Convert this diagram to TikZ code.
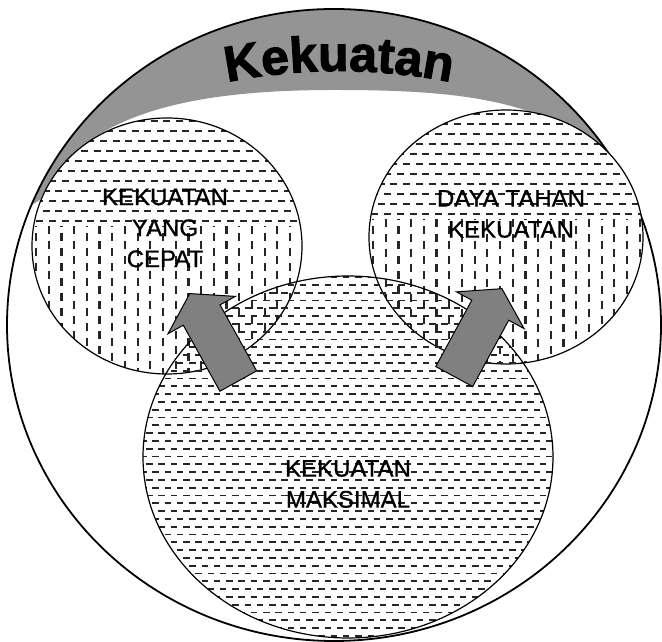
\documentclass[tikz,border=0pt]{standalone}
\usepackage{fontspec}
\setmainfont{Liberation Sans}
\newfontfamily\kekfont{Liberation Sans Bold}[FakeBold=2]
\newfontfamily\lblfont{Liberation Sans}[FakeBold=0.8]
\usetikzlibrary{shapes.arrows, decorations.text}

\begin{document}
\begin{tikzpicture}[x=1pt, y=1pt,
    lbl/.style={align=center, font=\lblfont\fontsize{24}{31}\selectfont, inner sep=0pt},
    blk/.style={single arrow, draw=black, fill=black!50, line width=1pt,
                minimum height=100pt, minimum width=76pt, inner xsep=0pt,
                inner ysep=20.5pt, single arrow tip angle=115,
                single arrow head extend=17.5pt, anchor=tail},
    hdash/.style={line width=2pt, dash pattern=on 7pt off 5.7pt, black!85},
    vdash/.style={line width=2.2pt, dash pattern=on 8pt off 7pt, black!85},
    mdash/.style={line width=1.8pt, dash pattern=on 6.5pt off 5.8pt, black!85},
]
\useasboundingbox (0,0) rectangle (662,642);
% --- grey band and outer circle ---------------------------------------------
\begin{scope}
  \clip (334,317) ellipse [x radius=327, y radius=316];
  \fill[black!42] (-10,412) -- (40,442) .. controls (80,532) and (200,552) .. (334,552)
     .. controls (470,552) and (585,542) .. (632,442) -- (680,412) -- (680,660)
     -- (-10,660) -- cycle;
\end{scope}
\draw[line width=1.8pt] (334,317) ellipse [x radius=327, y radius=316];
% --- kekuatan yang cepat ----------------------------------------------------
\fill[white] (167,396) ellipse [x radius=135, y radius=128];
\begin{scope}
  \clip (167,396) ellipse [x radius=135, y radius=128];
  \foreach \yy [count=\i, evaluate=\i as \ph using {mod(\i,2)*6.3}] in {421,431,...,525}
    \draw[hdash, dash phase=\ph pt] (30,\yy) -- (305,\yy);
  \foreach \xx [count=\i, evaluate=\i as \ph using {mod(\i,2)*7.5}] in {36,48.7,...,300}
    \draw[vdash, dash phase=\ph pt] (\xx,416) -- (\xx,260);
\end{scope}
\draw[line width=1.2pt] (167,396) ellipse [x radius=135, y radius=128];
% --- daya tahan kekuatan ----------------------------------------------------
\fill[white] (506,405) ellipse [x radius=137, y radius=127];
\begin{scope}
  \clip (506,405) ellipse [x radius=137, y radius=127];
  \foreach \yy [count=\i, evaluate=\i as \ph using {mod(\i,2)*6.3}] in {428,438,...,534}
    \draw[hdash, dash phase=\ph pt] (365,\yy) -- (646,\yy);
  \foreach \xx [count=\i, evaluate=\i as \ph using {mod(\i,2)*7.5}] in {373,385.7,...,645}
    \draw[vdash, dash phase=\ph pt] (\xx,423) -- (\xx,275);
\end{scope}
\draw[line width=1.2pt] (506,405) ellipse [x radius=137, y radius=127];
% --- kekuatan maksimal ------------------------------------------------------
\begin{scope}
  \clip (348,185) ellipse [x radius=205, y radius=181];
  \foreach \yy [count=\i, evaluate=\i as \ph using {mod(\i,2)*6.15}] in {6,13.8,...,366}
    \draw[mdash, dash phase=\ph pt] (140,\yy) -- (556,\yy);
\end{scope}
\draw[line width=1.2pt] (348,185) ellipse [x radius=205, y radius=181];
% --- arrows -----------------------------------------------------------------
\node[blk, rotate=119] (arrL) at (238.5,260.5) {};
\node[blk, rotate=61.5] (arrR) at (454,265) {};
% --- labels -----------------------------------------------------------------
\node[lbl] (cepat) at (165,414) {KEKUATAN\\YANG\\CEPAT};
\node[lbl] (tahan) at (511,428) {DAYA TAHAN\\KEKUATAN};
\node[lbl] (maks)  at (348,158) {KEKUATAN\\MAKSIMAL};
\path[decorate, decoration={text along path, text align=center,
      text={|\kekfont\fontsize{50}{50}\selectfont|Kekuatan}}]
  (339,6) ++(115:565) arc[start angle=115, end angle=65, radius=565];
\end{tikzpicture}
\end{document}
